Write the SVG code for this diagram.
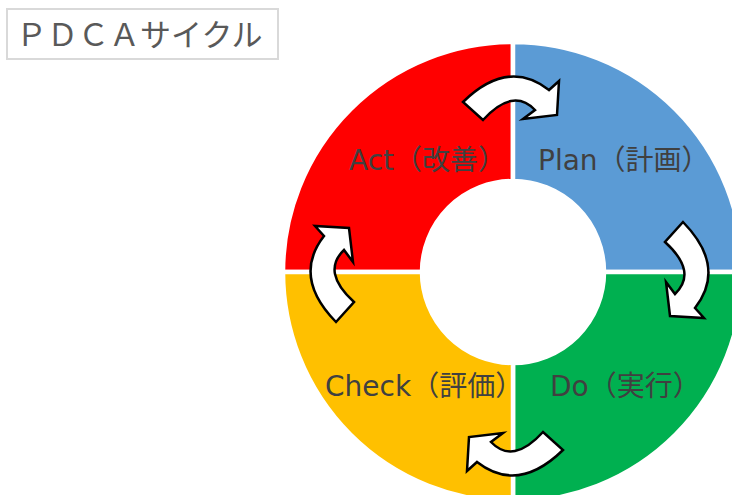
<svg xmlns="http://www.w3.org/2000/svg" xmlns:xlink="http://www.w3.org/1999/xlink" width="732" height="495" viewBox="0 0 732 495">
  <style>
    .seg { stroke: #ffffff; stroke-width: 4.5; }
    .lbl { font-family: "DejaVu Sans", "Noto Sans CJK JP", sans-serif; font-size: 28px; fill: #404040; }
    .arrow { fill: #ffffff; stroke: #000000; stroke-width: 2.5; stroke-linejoin: miter; }
    .title { font-family: "Noto Sans CJK JP", sans-serif; font-size: 31px; font-weight: normal; fill: #595959; }
  </style>
  <defs>
    <path id="curved-arrow" class="arrow" d="M 463,102 Q 508,58 549,90 L 559,81 L 557,115 L 523,119 L 535,110 Q 513,87 483,120 Z"/>
  </defs>
  <rect width="732" height="495" fill="#ffffff"/>

  <g id="title">
    <rect x="7" y="9" width="271" height="50" fill="#ffffff" stroke="#d9d9d9" stroke-width="2"/>
    <text class="title" x="16" y="46">ＰＤＣＡサイクル</text>
  </g>

  <g id="act">
    <path class="seg" fill="#ff0000" d="M 283,272 A 230 230 0 0 1 513,42 L 513,181 A 91 91 0 0 0 422,272 Z"/>
    <text class="lbl" x="349" y="170">Act（改善）</text>
  </g>
  <g id="plan">
    <path class="seg" fill="#5b9bd5" d="M 513,42 A 230 230 0 0 1 743,272 L 604,272 A 91 91 0 0 0 513,181 Z"/>
    <text class="lbl" x="538" y="170">Plan（計画）</text>
  </g>
  <g id="do">
    <path class="seg" fill="#00b050" d="M 743,272 A 230 230 0 0 1 513,502 L 513,363 A 91 91 0 0 0 604,272 Z"/>
    <text class="lbl" x="550" y="396">Do（実行）</text>
  </g>
  <g id="check">
    <path class="seg" fill="#ffc000" d="M 513,502 A 230 230 0 0 1 283,272 L 422,272 A 91 91 0 0 0 513,363 Z"/>
    <text class="lbl" x="325" y="396">Check（評価）</text>
  </g>

  <g id="connectors">
    <use xlink:href="#curved-arrow" href="#curved-arrow"/>
    <use xlink:href="#curved-arrow" href="#curved-arrow" transform="rotate(90 513 272)"/>
    <use xlink:href="#curved-arrow" href="#curved-arrow" transform="translate(0 8) rotate(180 513 272)"/>
    <use xlink:href="#curved-arrow" href="#curved-arrow" transform="translate(-7 0) rotate(270 513 272)"/>
  </g>
</svg>
